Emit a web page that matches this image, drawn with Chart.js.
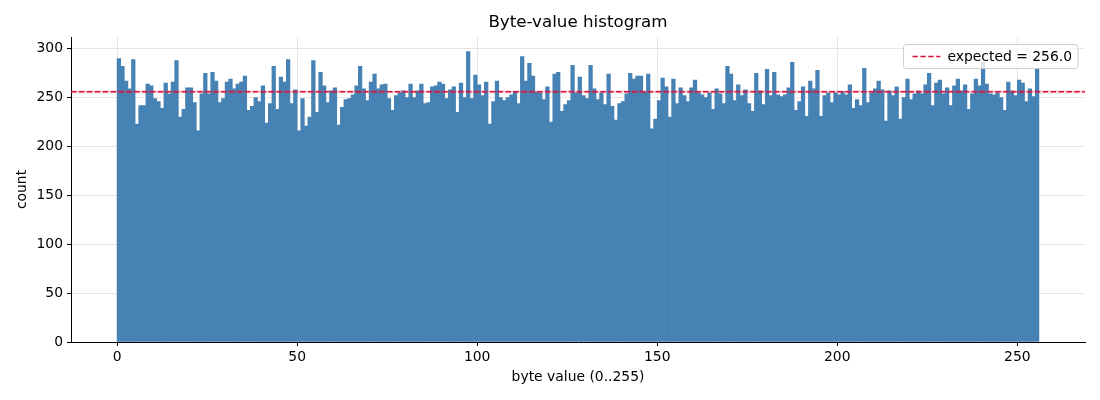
<!DOCTYPE html>
<html>
<head>
<meta charset="utf-8">
<title>Byte-value histogram</title>
<script src="https://cdn.jsdelivr.net/npm/chart.js@4.4.1/dist/chart.umd.min.js"></script>
<style>
  html, body { margin: 0; padding: 0; background: #fff; }
  #wrap { width: 1100px; height: 400px; }
</style>
</head>
<body>
<div id="wrap"><canvas id="hist" width="1100" height="400"></canvas></div>
<script>
// bins: one per byte value
const byteValues = Array.from({ length: 256 }, (_, i) => i)

// count per byte value
const counts = [
  290, 282, 267, 259, 289, 223, 242, 242, 264, 262, 249, 246, 239, 265, 254, 266,
  288, 230, 238, 260, 260, 245, 216, 254, 275, 254, 276, 267, 245, 249, 266, 269,
  259, 264, 266, 272, 237, 241, 250, 246, 262, 224, 244, 282, 238, 271, 266, 289,
  244, 258, 216, 249, 221, 230, 288, 235, 276, 262, 245, 257, 260, 222, 240, 248,
  249, 253, 262, 282, 259, 247, 266, 274, 259, 263, 264, 249, 237, 252, 255, 257,
  250, 264, 250, 257, 264, 244, 245, 261, 262, 266, 264, 249, 258, 261, 235, 265,
  250, 297, 249, 273, 263, 252, 266, 223, 246, 267, 250, 247, 250, 253, 256, 244,
  292, 267, 285, 272, 256, 255, 248, 261, 225, 274, 276, 236, 243, 247, 283, 255,
  271, 252, 249, 283, 259, 248, 255, 243, 274, 241, 227, 244, 246, 254, 275, 269,
  272, 272, 256, 274, 218, 228, 247, 270, 261, 230, 269, 244, 260, 252, 246, 260,
  268, 255, 253, 250, 255, 238, 259, 254, 244, 282, 274, 247, 263, 252, 258, 244,
  236, 275, 257, 243, 279, 252, 276, 253, 251, 253, 260, 286, 237, 246, 261, 231,
  267, 259, 278, 231, 252, 255, 245, 255, 253, 256, 253, 263, 239, 248, 242, 280,
  245, 255, 259, 267, 258, 226, 257, 252, 261, 228, 250, 269, 248, 254, 257, 254,
  263, 275, 242, 265, 268, 254, 260, 242, 262, 269, 257, 263, 238, 254, 269, 262,
  286, 264, 254, 253, 255, 250, 237, 266, 257, 252, 268, 265, 246, 259, 251, 279,
]

const expected = 256.0
const xTicks = [0, 50, 100, 150, 200, 250]
const yTicks = [0, 50, 100, 150, 200, 250, 300]

const xMin = -12.8
const xMax = 268.8
const yMax = 312

Chart.defaults.font.family = "'DejaVu Sans', sans-serif"
Chart.defaults.color = "#000"

const gridColor = "rgba(176, 176, 176, 0.3)"

// matplotlib-style legend box in the upper right of the axes
const legendBox = {
  id: "legendBox",
  afterDraw(chart) {
    const ctx = chart.ctx
    const area = chart.chartArea
    const ds = chart.data.datasets[2]
    ctx.save()
    ctx.font = "13.9px 'DejaVu Sans', sans-serif"
    const tw = ctx.measureText(ds.label).width
    const w = tw + 50
    const h = 24
    const x = area.right - 7 - w
    const y = area.top + 7.5
    ctx.beginPath()
    ctx.roundRect(x, y, w, h, 3)
    ctx.fillStyle = "rgba(255, 255, 255, 0.8)"
    ctx.fill()
    ctx.strokeStyle = "#cccccc"
    ctx.lineWidth = 1
    ctx.stroke()
    // sample line
    ctx.beginPath()
    ctx.setLineDash(ds.borderDash)
    ctx.strokeStyle = ds.borderColor
    ctx.lineWidth = ds.borderWidth
    ctx.moveTo(x + 9, y + h / 2)
    ctx.lineTo(x + 37, y + h / 2)
    ctx.stroke()
    ctx.setLineDash([])
    ctx.fillStyle = "#000"
    ctx.textBaseline = "middle"
    ctx.textAlign = "left"
    ctx.fillText(ds.label, x + 44, y + h / 2 + 0.5)
    ctx.restore()
  },
}

const ctx = document.getElementById("hist").getContext("2d")
new Chart(ctx, {
  type: "bar",
  data: {
    datasets: [
      {
        type: "bar",
        label: "count",
        data: byteValues.map((b, i) => ({ x: b + 0.5, y: counts[i] })),
        backgroundColor: "#4682b4",
        borderWidth: 0,
        barPercentage: 1,
        categoryPercentage: 1,
        order: 3,
      },
      {
        type: "line",
        label: "halo",
        data: [{ x: xMin, y: expected }, { x: xMax, y: expected }],
        borderColor: "rgba(220, 20, 60, 0.18)",
        borderWidth: 3,
        pointRadius: 0,
        order: 2,
      },
      {
        type: "line",
        label: "expected = " + expected.toFixed(1),
        data: [{ x: xMin, y: expected }, { x: xMax, y: expected }],
        borderColor: "#dc143c",
        borderWidth: 1.5,
        borderDash: [5.5, 2.4],
        pointRadius: 0,
        order: 1,
      },
    ],
  },
  options: {
    responsive: false,
    animation: false,
    devicePixelRatio: 1,
    layout: { padding: { left: 0, right: 15, top: 0, bottom: 0 } },
    plugins: {
      legend: { display: false },
      tooltip: { enabled: false },
      title: {
        display: true,
        text: "Byte-value histogram",
        fullSize: false,
        color: "#000",
        font: { size: 16.7, weight: "normal" },
        padding: { top: 13, bottom: 4 },
      },
    },
    scales: {
      x: {
        type: "linear",
        min: xMin,
        max: xMax,
        offset: false,
        z: 1,
        afterFit: (s) => { s.height = 58 },
        afterBuildTicks: (s) => { s.ticks = xTicks.map((v) => ({ value: v })) },
        grid: { offset: false, color: gridColor, tickColor: "#000", tickLength: 4, lineWidth: 1 },
        border: { color: "#000", width: 1 },
        ticks: { font: { size: 13.9 }, padding: 3, maxRotation: 0, autoSkip: false },
        title: {
          display: true,
          text: "byte value (0..255)",
          font: { size: 13.9 },
          padding: { top: 0, bottom: 14.7 },
        },
      },
      y: {
        min: 0,
        max: yMax,
        z: 1,
        afterFit: (s) => { s.width = 71 },
        afterBuildTicks: (s) => { s.ticks = yTicks.map((v) => ({ value: v })) },
        grid: { color: gridColor, tickColor: "#000", tickLength: 4, lineWidth: 1 },
        border: { color: "#000", width: 1 },
        ticks: { font: { size: 13.9 }, padding: 4, autoSkip: false },
        title: {
          display: true,
          text: "count",
          font: { size: 13.9 },
          padding: { top: 13.7, bottom: 0 },
        },
      },
    },
  },
  plugins: [legendBox],
})
</script>
</body>
</html>
